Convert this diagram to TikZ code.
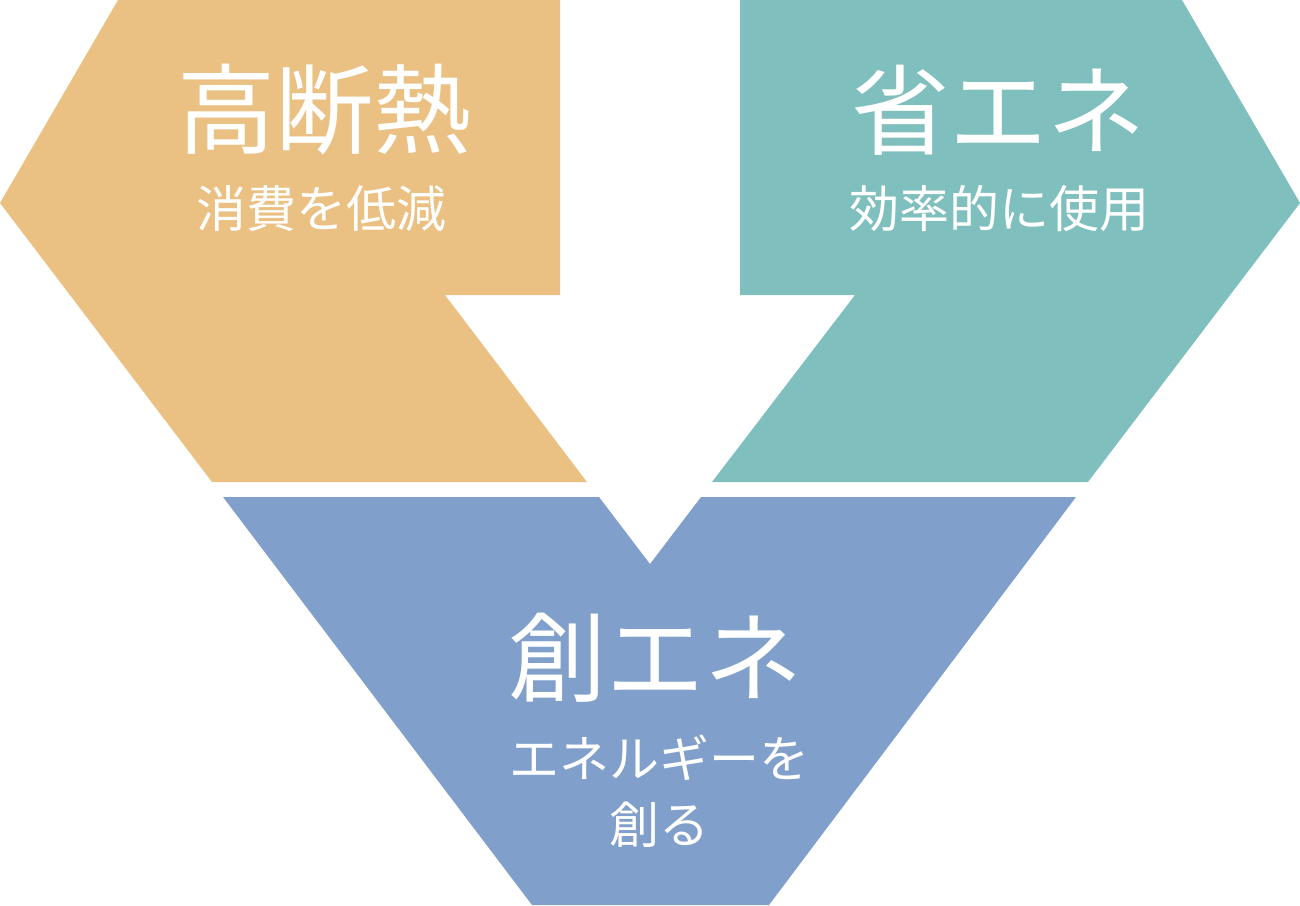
\documentclass[tikz,border=0pt]{standalone}
\usepackage{xcolor}
\usepackage{fontspec}
\setmainfont{Noto Sans CJK JP}
\usepackage{tikz}

\definecolor{dannetsu}{RGB}{235,192,131}
\definecolor{shoene}{RGB}{127,191,189}
\definecolor{souene}{RGB}{128,160,203}

\begin{document}
\begin{tikzpicture}[x=1pt, y=-1pt,
	title/.style={text=white, inner sep=0pt, font=\fontsize{98}{98}\selectfont},
	sub/.style={text=white, inner sep=0pt, align=center, font=\fontsize{50}{66}\selectfont}]
	
	\useasboundingbox (0,0) rectangle (1300,905);
	
	%//left arrow
	\fill[dannetsu] (118,0) -- (560,0) -- (560,295) -- (445,295) -- (587,482) -- (212,482) -- (0,203) -- cycle;
	
	%//right arrow
	\fill[shoene] (740,0) -- (1182,0) -- (1300,203) -- (1088,482) -- (712,482) -- (855,295) -- (740,295) -- cycle;
	
	%//bottom arrow
	\fill[souene] (223,497) -- (599,497) -- (650,564) -- (701,497) -- (1076,497) -- (769,905) -- (532,905) -- cycle;
	
	\node [title] (dannetsu) at (324,110) {高断熱};
	\node [sub] (dannetsuSub) at (321,209) {消費を低減};
	
	\node [title] (shoene) at (998,110) {省エネ};
	\node [sub] (shoeneSub) at (999,209) {効率的に使用};
	
	\node [title] (souene) at (655,658) {創エネ};
	\node [sub] (soueneSub) at (659,791) {エネルギーを\\創る};
	
\end{tikzpicture}
\end{document}
